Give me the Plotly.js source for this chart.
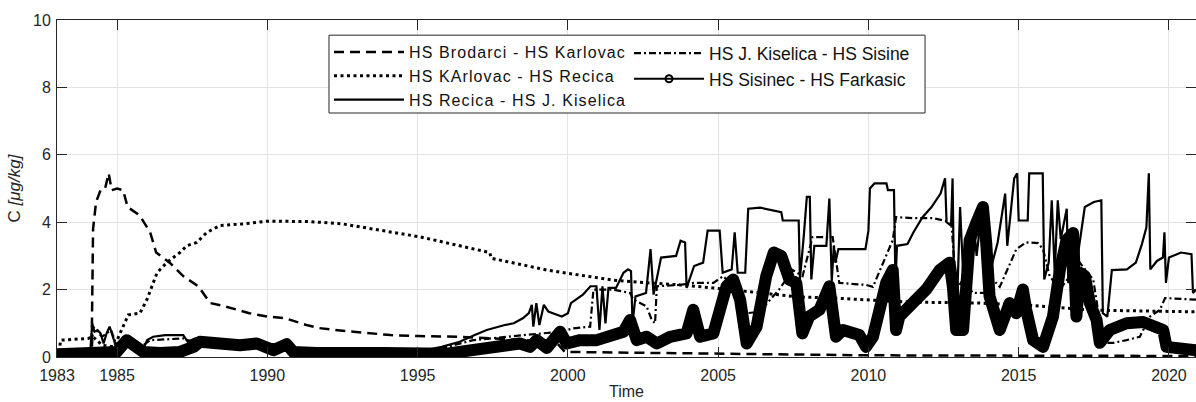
<!DOCTYPE html>
<html>
<head>
<meta charset="utf-8">
<script src="https://cdn.plot.ly/plotly-3.0.1.min.js"></script>
<style>
html,body{margin:0;padding:0;background:#fff;}
#chart{width:1196px;height:402px;}
text.legendtext{letter-spacing:1.1px;}
.scatterlayer .trace:nth-child(5) path.js-line{stroke-linejoin:round;stroke-linecap:round;}
</style>
</head>
<body>
<div id="chart"></div>
<script>
// ---- data (decimal years, concentration in µg/kg) ----
const brodarciX = [1983.0,1984.15,1984.2,1984.3,1984.45,1984.6,1984.72,1984.82,1985.0,1985.2,1985.35,1985.75,1986.1,1986.3,1986.75,1987.2,1987.7,1988.1,1988.6,1989.0,1989.4,1990.0,1990.6,1991.3,1991.7,1992.5,1993.3,1994.1,1995.0,1996.4,1997.5,1998.5,1999.6,1999.9,2002.0,2005.0,2010.0,2015.0,2020.9];
const brodarciY = [0.0,0.0,3.8,4.6,4.95,5.0,5.45,4.95,5.0,4.95,4.45,4.2,3.7,3.1,2.8,2.4,2.1,1.6,1.5,1.4,1.3,1.2,1.15,0.95,0.86,0.78,0.71,0.65,0.62,0.6,0.55,0.5,0.45,0.15,0.13,0.08,0.05,0.04,0.03];

const karlovacX = [1983.0,1983.05,1983.12,1984.04,1984.2,1984.5,1984.9,1985.2,1985.37,1985.76,1985.99,1986.33,1986.65,1987.09,1987.32,1987.65,1987.99,1988.42,1989.2,1989.98,1991.4,1992.5,1993.75,1995.1,1997.4,1997.45,1999.3,2000.4,2001.5,2002.18,2003.73,2004.84,2006.37,2007.7,2008.81,2010.03,2011.37,2013.7,2015.25,2017.48,2020.9];
const karlovacY = [0.0,0.0,0.5,0.55,0.6,0.35,0.3,0.9,1.25,1.3,1.7,2.5,2.8,3.1,3.3,3.4,3.7,3.9,3.95,4.03,4.02,3.95,3.77,3.56,3.1,2.93,2.58,2.43,2.28,2.23,2.14,2.05,1.9,1.78,1.75,1.7,1.63,1.6,1.54,1.39,1.34];

const recicaX = [1983.0,1984.1,1984.17,1984.25,1984.35,1984.45,1984.55,1984.65,1984.75,1984.85,1984.95,1985.3,1985.6,1985.9,1986.0,1986.2,1986.6,1987.2,1987.35,1987.6,1988.2,1989.0,1990.0,1990.6,1991.0,1993.0,1994.5,1995.0,1995.8,1996.4,1996.9,1997.3,1997.9,1998.2,1998.5,1998.7,1998.8,1998.85,1998.95,1999.05,1999.2,1999.35,1999.5,1999.8,2000.0,2000.1,2000.5,2000.75,2000.95,2001.05,2001.15,2001.25,2001.35,2001.6,2001.85,2002.0,2002.1,2002.15,2002.25,2002.6,2002.75,2002.85,2003.1,2003.6,2003.75,2003.9,2003.95,2004.2,2004.5,2004.65,2005.05,2005.15,2005.45,2005.55,2005.65,2005.9,2006.0,2006.4,2007.1,2007.15,2007.68,2007.72,2007.85,2007.95,2008.05,2008.1,2008.2,2008.6,2008.7,2008.78,2008.85,2008.9,2009.0,2009.9,2010.0,2010.05,2010.2,2010.6,2010.65,2010.85,2010.9,2010.95,2011.3,2011.5,2011.8,2012.1,2012.4,2012.55,2012.6,2012.75,2012.8,2012.85,2012.95,2013.05,2013.15,2013.3,2013.5,2013.6,2013.75,2013.95,2014.3,2014.55,2014.62,2014.7,2014.85,2014.95,2015.0,2015.3,2015.35,2015.8,2015.85,2016.0,2016.1,2016.2,2016.3,2016.4,2016.6,2016.65,2016.9,2017.2,2017.5,2017.75,2017.8,2017.95,2018.1,2018.6,2018.9,2019.1,2019.25,2019.33,2019.38,2019.6,2019.8,2019.85,2019.9,2020.0,2020.4,2020.75,2020.8,2020.9];
const recicaY = [0.05,0.05,1.0,0.75,0.8,0.7,0.4,0.7,0.9,0.6,0.35,0.35,0.3,0.3,0.5,0.6,0.65,0.65,0.45,0.55,0.5,0.45,0.4,0.35,0.15,0.1,0.1,0.15,0.3,0.45,0.65,0.8,0.95,1.0,1.15,1.3,1.55,0.9,1.6,0.95,1.55,1.35,1.3,1.2,1.3,1.6,1.85,2.1,2.1,0.8,2.1,1.0,2.05,2.05,2.5,2.6,2.55,1.0,1.8,1.9,3.2,1.85,2.95,3.0,3.45,3.4,2.05,2.7,2.8,3.75,3.75,2.5,2.6,3.7,2.5,2.5,4.4,4.43,4.3,4.05,4.05,2.3,3.6,4.75,4.75,2.3,3.3,3.3,4.7,2.25,3.3,2.8,3.2,3.2,3.75,5.0,5.15,5.15,4.95,4.95,2.2,3.3,3.35,3.7,4.15,4.45,4.85,5.3,4.0,3.9,5.3,2.0,1.6,4.45,2.5,3.3,4.0,3.0,4.2,2.2,3.4,4.85,3.3,4.0,5.3,5.45,4.05,4.05,5.45,5.45,2.3,2.8,4.65,2.5,4.65,3.5,4.4,2.2,2.6,4.45,4.6,4.65,1.3,1.2,2.58,2.6,2.8,3.35,3.85,5.45,2.6,2.85,2.95,3.7,2.2,2.95,3.1,3.05,1.9,2.0];

const kiselicaX = [1983.0,1984.15,1984.2,1984.5,1984.8,1985.0,1985.8,1986.1,1987.2,1987.5,1990.0,1991.0,1993.0,1995.0,1995.97,1996.85,1997.96,1999.74,2000.18,2000.74,2000.85,2001.5,2002.07,2002.18,2002.62,2002.79,2002.9,2002.96,2003.73,2004.17,2004.84,2005.17,2005.62,2005.95,2006.37,2007.03,2007.48,2007.81,2008.14,2008.81,2009.03,2009.92,2010.15,2010.81,2010.92,2011.48,2012.14,2012.76,2012.92,2013.15,2013.48,2013.92,2014.14,2014.37,2014.81,2014.92,2015.25,2015.64,2015.81,2016.03,2016.37,2017.03,2017.48,2017.7,2017.92,2018.14,2018.59,2019.03,2019.37,2019.7,2019.87,2020.9];
const kiselicaY = [0.0,0.0,0.9,0.6,0.8,0.3,0.3,0.5,0.55,0.45,0.4,0.2,0.1,0.1,0.3,0.5,0.6,0.75,0.85,0.9,2.0,2.0,1.9,1.7,1.5,1.1,1.0,2.1,2.14,2.2,2.2,2.4,2.0,1.3,1.34,2.0,2.58,2.4,3.56,3.56,2.2,2.14,2.08,3.47,4.15,4.12,4.12,4.0,2.0,2.3,1.9,1.9,2.3,2.08,2.97,3.2,3.4,3.38,3.2,2.4,2.0,2.8,2.3,1.04,0.42,0.42,0.5,0.6,1.2,1.4,1.75,1.7];

const sisinecX = [1983.0,1984.76,1984.99,1985.32,1985.54,1985.87,1986.43,1987.09,1987.54,1987.76,1988.42,1989.09,1989.65,1989.98,1990.2,1990.64,1990.86,1991.64,1992.75,1993.86,1995.97,1997.07,1997.96,1998.4,1998.74,1998.96,1999.3,1999.74,1999.96,2000.4,2000.96,2001.5,2001.85,2002.07,2002.29,2002.62,2002.96,2003.4,2003.95,2004.17,2004.4,2004.84,2005.28,2005.5,2005.73,2005.95,2006.28,2006.6,2006.85,2007.1,2007.37,2007.6,2007.7,2007.8,2008.03,2008.37,2008.7,2008.8,2008.92,2009.15,2009.7,2009.92,2010.15,2010.37,2010.59,2010.81,2010.92,2011.03,2011.48,2011.92,2012.37,2012.7,2012.81,2012.92,2013.15,2013.37,2013.59,2013.81,2013.92,2014.03,2014.37,2014.7,2014.92,2015.14,2015.25,2015.48,2015.81,2016.14,2016.37,2016.59,2016.81,2016.92,2017.03,2017.2,2017.37,2017.59,2017.7,2018.03,2018.59,2019.14,2019.81,2019.92,2020.9];
const sisinecY = [0.08,0.08,0.15,0.5,0.35,0.15,0.12,0.15,0.3,0.45,0.4,0.35,0.4,0.3,0.2,0.38,0.15,0.12,0.08,0.12,0.1,0.2,0.3,0.4,0.3,0.5,0.27,0.75,0.4,0.5,0.5,0.6,0.75,1.1,0.5,0.6,0.4,0.6,0.7,1.4,0.6,0.7,2.1,2.3,1.7,0.4,0.9,2.4,3.1,3.0,2.3,2.2,1.0,0.7,1.2,1.4,2.1,1.6,0.6,0.8,0.65,0.3,0.6,1.4,2.2,2.58,0.8,1.2,1.6,2.0,2.58,2.8,2.08,0.8,0.8,3.47,3.98,4.45,3.38,1.8,0.8,1.6,1.3,2.0,1.4,0.5,0.3,1.2,2.58,3.47,3.68,1.2,2.5,2.4,1.6,1.1,0.42,0.8,1.0,1.04,0.8,0.3,0.2];

const legendNames = ['HS Brodarci - HS Karlovac','HS KArlovac - HS Recica','HS Recica - HS J. Kiselica','HS J. Kiselica - HS Sisine','HS Sisinec - HS Farkasic'];
const xTickVals = [1983,1985,1990,1995,2000,2005,2010,2015,2020];
const xTickText = ['1983','1985','1990','1995','2000','2005','2010','2015','2020'];
const yTickVals = [0,2,4,6,8,10];

const ink = '#000000';
const traces = [
  {x: karlovacX, y: karlovacY, name: legendNames[1], legend: 'legend', legendrank: 2, mode: 'lines',
   line: {color: ink, width: 3, dash: '3px,3.5px'}},
  {x: brodarciX, y: brodarciY, name: legendNames[0], legend: 'legend', legendrank: 1, mode: 'lines',
   line: {color: ink, width: 2.5, dash: '10px,6px'}},
  {x: recicaX, y: recicaY, name: legendNames[2], legend: 'legend', legendrank: 3, mode: 'lines',
   line: {color: ink, width: 2.2}},
  {x: kiselicaX, y: kiselicaY, name: legendNames[3], legend: 'legend2', legendrank: 1, mode: 'lines',
   line: {color: ink, width: 2.2, dash: '7px,3px,2px,3px'}},
  {x: sisinecX, y: sisinecY, name: legendNames[4], showlegend: false, mode: 'lines',
   line: {color: ink, width: 12}},
  {x: [null], y: [null], name: legendNames[4], legend: 'legend2', legendrank: 2, mode: 'lines+markers',
   line: {color: ink, width: 2},
   marker: {symbol: 'circle-open', size: 7, color: ink, line: {width: 2, color: ink}}}
];

const axisCol = '#262626';
const legendBase = {
  orientation: 'v', y: 0.955, xanchor: 'left', yanchor: 'top',
  bgcolor: 'rgba(0,0,0,0)', borderwidth: 0,
  font: {size: 16, color: '#111'}, itemwidth: 70, traceorder: 'normal'
};
const layout = {
  width: 1196, height: 402,
  margin: {l: 57, r: 0, t: 20, b: 45},
  paper_bgcolor: '#fff', plot_bgcolor: '#fff',
  font: {family: 'Liberation Sans, Arial, sans-serif', size: 16, color: axisCol},
  showlegend: true,
  legend: Object.assign({}, legendBase, {x: 0.2388}),
  legend2: Object.assign({}, legendBase, {x: 0.5022, font: {size: 17.5, color: '#111'}}),
  shapes: [{type: 'rect', xref: 'paper', yref: 'paper', x0: 0.2388, x1: 0.7621, y0: 0.724, y1: 0.955,
            line: {color: axisCol, width: 1}, fillcolor: '#fff', layer: 'above'}],
  xaxis: {
    range: [1983, 2020.9], tickmode: 'array', tickvals: xTickVals, ticktext: xTickText,
    showgrid: true, gridcolor: '#e3e3e3', gridwidth: 1, zeroline: false,
    showline: true, linecolor: axisCol, linewidth: 1, mirror: 'ticks',
    ticks: 'inside', ticklen: 10, tickcolor: axisCol, ticklabelstandoff: 4,
    tickfont: {size: 16, color: axisCol},
    title: {text: 'Time', font: {size: 16, color: axisCol}, standoff: 2}
  },
  yaxis: {
    range: [0, 10], tickmode: 'array', tickvals: yTickVals,
    showgrid: true, gridcolor: '#e3e3e3', gridwidth: 1, zeroline: false,
    showline: true, linecolor: axisCol, linewidth: 1, mirror: 'ticks',
    ticks: 'inside', ticklen: 10, tickcolor: axisCol, ticklabelstandoff: 2,
    tickfont: {size: 16, color: axisCol},
    title: {text: 'C <i>[μg/kg]</i>', font: {size: 17, color: axisCol}, standoff: 8}
  }
};

Plotly.newPlot('chart', traces, layout, {displayModeBar: false, staticPlot: true});
</script>
</body>
</html>
